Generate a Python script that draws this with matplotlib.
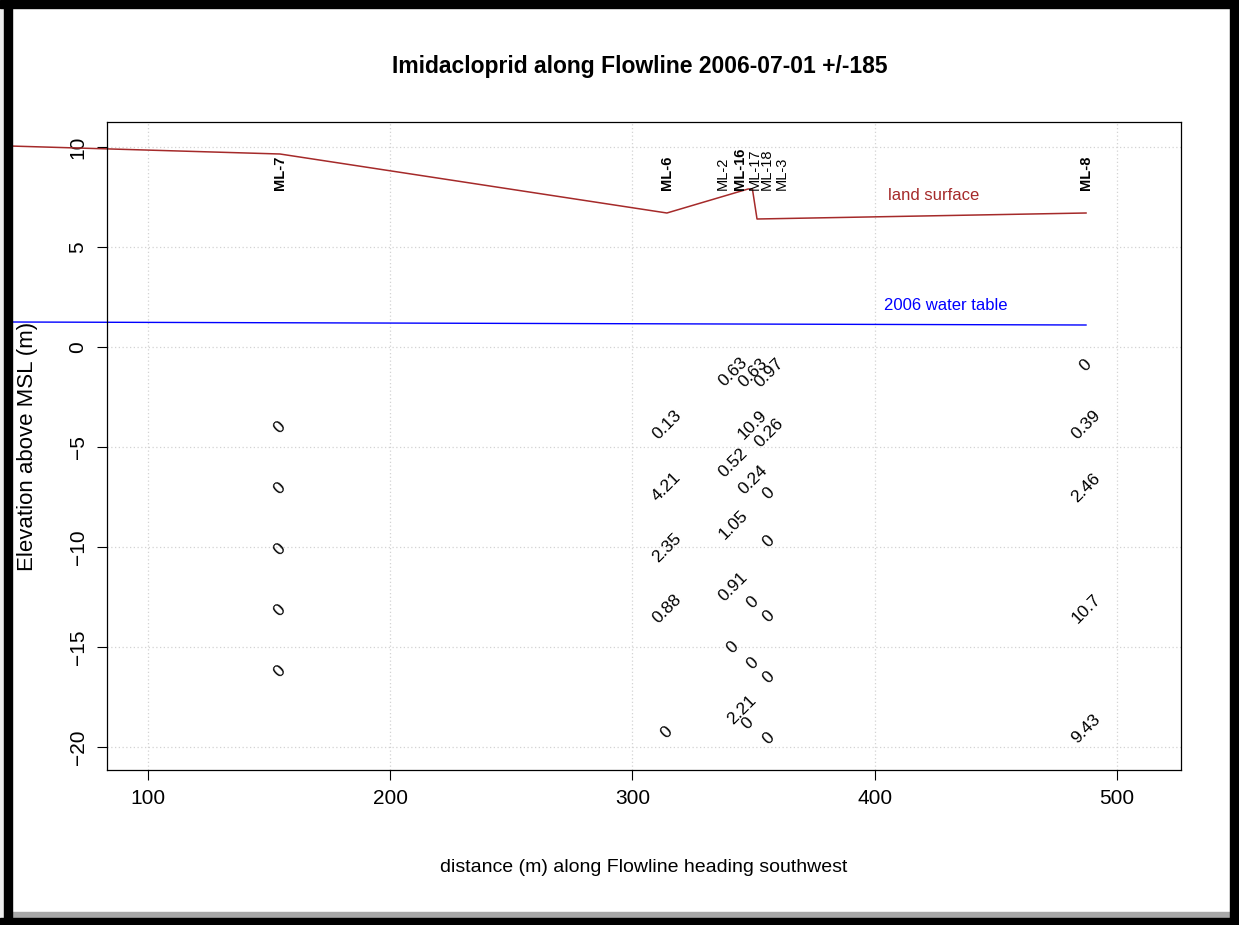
import matplotlib
matplotlib.use("Agg")
import matplotlib.pyplot as plt
from matplotlib.patches import Rectangle

FONT = ['Liberation Sans Narrow', 'Liberation Sans', 'DejaVu Sans']
plt.rcParams['font.family'] = FONT

# land surface and water table along the flowline
land_x = [43.0, 154.5, 314.2, 347.7, 349.5, 351.4, 487.2]
land_y = [10.05, 9.65, 6.7, 7.9, 7.9, 6.4, 6.7]
wt_x = [43.0, 487.2]
wt_y = [1.25, 1.1]

# wells
well_names = ['ML-7', 'ML-6', 'ML-2', 'ML-16', 'ML-17', 'ML-18', 'ML-3', 'ML-8']
well_x = [154.5, 314.2, 337.4, 344.4, 350.6, 355.5, 361.7, 487.2]
well_bold = [True, True, False, True, False, False, False, True]

# concentrations (text), x, elevation
samp_x = ([154.5] * 5 + [314.2] * 5 + [487.2] * 5
          + [341.5] * 5 + [345.2]
          + [349.7] * 5 + [347.7]
          + [356.3] * 7)
samp_y = ([-4.0, -7.05, -10.1, -13.15, -16.2]
          + [-3.9, -7.0, -10.05, -13.1, -19.25]
          + [-0.9, -3.9, -7.05, -13.1, -19.1]
          + [-1.25, -5.8, -8.9, -12.0, -15.0] + [-18.15]
          + [-1.3, -3.9, -6.65, -12.75, -15.8] + [-18.8]
          + [-1.3, -4.3, -7.3, -9.7, -13.45, -16.5, -19.55])
samp_lab = (['0'] * 5
            + ['0.13', '4.21', '2.35', '0.88', '0']
            + ['0', '0.39', '2.46', '10.7', '9.43']
            + ['0.63', '0.52', '1.05', '0.91', '0'] + ['2.21']
            + ['0.63', '10.9', '0.24', '0', '0'] + ['0']
            + ['0.97', '0.26', '0', '0', '0', '0', '0'])

fig = plt.figure(figsize=(12.39, 9.25), dpi=100)
ax = fig.add_axes([107/1239, 1-770/925, (1181-107)/1239, (770-122)/925])
ax.set_xlim(83.1, 526.4)
ax.set_ylim(-21.15, 11.25)

ax.set_xticks([100, 200, 300, 400, 500])
ax.set_yticks([-20, -15, -10, -5, 0, 5, 10])
ax.grid(True, color='#d3d3d3', linestyle=(0, (1, 2)), linewidth=0.9)
ax.set_axisbelow(True)
ax.tick_params(length=7, width=0.8, labelsize=15, pad=7)
for lab in ax.get_yticklabels():
    lab.set_rotation(90)
    lab.set_va('center')
for s in ax.spines.values():
    s.set_linewidth(0.9)

ax.plot(land_x, land_y, color='#a52a2a', lw=1.1, clip_on=False)
ax.plot(wt_x, wt_y, color='#0000ff', lw=1.0, clip_on=False)
ax.text(424.5, 7.55, 'land surface', color='#a52a2a', fontsize=12,
        ha='center', va='center')
ax.text(429.4, 2.05, '2006 water table', color='#0000ff', fontsize=12,
        ha='center', va='center')

for name, x, b in zip(well_names, well_x, well_bold):
    ax.text(x, 7.85, name, rotation=90, ha='center', va='bottom',
            fontsize=10.5, fontweight='bold' if b else 'normal')

for x, y, t in zip(samp_x, samp_y, samp_lab):
    ax.text(x, y, t, rotation=45, rotation_mode='anchor', ha='center',
            va='center', fontsize=12.5)

fig.text(640/1239, 1-66/925, 'Imidacloprid along Flowline 2006-07-01 +/-185',
         ha='center', va='center', fontsize=16.5, fontweight='bold')
fig.text(644/1239, 1-868/925, 'distance (m) along Flowline heading southwest',
         ha='center', va='center', fontsize=14)
fig.text(28/1239, 1-446/925, 'Elevation above MSL (m)', rotation=90,
         ha='center', va='center', fontsize=16)

# frame around the picture
W, H = 1239, 925
def box(x0, y0, x1, y1, c):
    fig.patches.append(Rectangle((x0/W, 1-y1/H), (x1-x0)/W, (y1-y0)/H,
                                 transform=fig.transFigure, color=c, zorder=10))
box(0, 0, 4, H, '#eeeeee')
box(12, 912, 1230, 918, '#a8a8a8')
box(4, 0, 12, H, 'black')
box(0, 0, W, 8, 'black')
box(1230, 0, W, H, 'black')
box(0, 918, W, H, 'black')

fig.savefig('out.png', dpi=100)
